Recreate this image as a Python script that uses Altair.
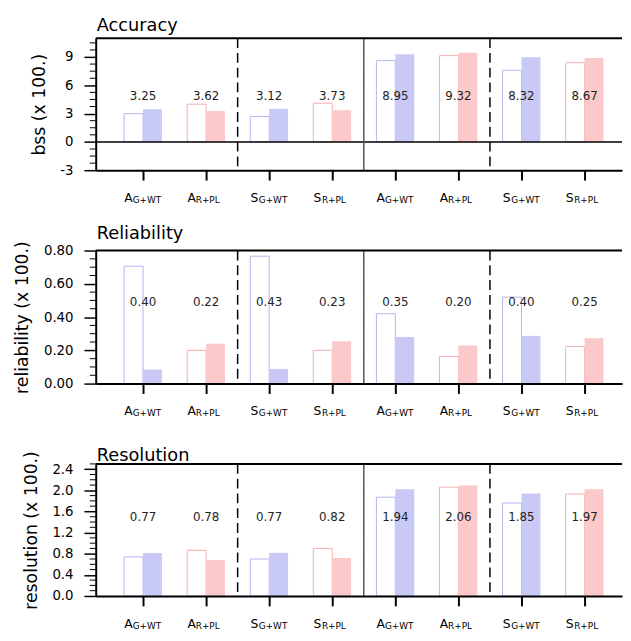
import altair as alt
import pandas as pd
import numpy as np

# ---- data ----
mains = ["A", "A", "S", "S", "A", "A", "S", "S"]
subs = ["G+WT", "R+PL", "G+WT", "R+PL", "G+WT", "R+PL", "G+WT", "R+PL"]

acc_open = [3.0, 4.0, 2.7, 4.1, 8.62, 9.15, 7.6, 8.4]
acc_fill = [3.45, 3.27, 3.5, 3.35, 9.28, 9.45, 8.98, 8.9]
acc_text = ["3.25", "3.62", "3.12", "3.73", "8.95", "9.32", "8.32", "8.67"]

rel_open = [0.706, 0.20, 0.766, 0.20, 0.42, 0.163, 0.52, 0.223]
rel_fill = [0.084, 0.24, 0.088, 0.255, 0.28, 0.229, 0.287, 0.273]
rel_text = ["0.40", "0.22", "0.43", "0.23", "0.35", "0.20", "0.40", "0.25"]

res_open = [0.74, 0.865, 0.70, 0.90, 1.87, 2.06, 1.76, 1.93]
res_fill = [0.815, 0.68, 0.815, 0.72, 2.02, 2.09, 1.94, 2.02]
res_text = ["0.77", "0.78", "0.77", "0.82", "1.94", "2.06", "1.85", "1.97"]

W = 534
STEP = 64.0
FONT = "DejaVu Sans"
group_dom = ["G+WT", "R+PL"]
line_cols = ["#b4b4ee", "#f2b0b0"]
fill_cols = ["#c9c9f7", "#fbc9c9"]


def panel(title, ytitle, opens, fills, texts, dom, majors, minor_step, fmt, h,
          title_offset, text_y):
    df = pd.DataFrame({"idx": list(range(8)), "main": mains, "sub": subs,
                       "open": opens, "fill": fills, "txt": texts})
    xs = alt.Scale(domain=[-0.75, -0.75 + W / STEP], nice=False, zero=False)
    ys = alt.Scale(domain=dom, nice=False, zero=False)
    xax = alt.Axis(values=list(range(8)), labels=False, tickSize=10, tickWidth=2,
                   tickColor="black", domainColor="black", domainWidth=2,
                   grid=False, title=None, zindex=1)
    yax = alt.Axis(values=majors, format=fmt, tickSize=12, tickWidth=1.5,
                   tickColor="black", domainColor="black", domainWidth=2,
                   grid=False, title=ytitle, labelPadding=11, titlePadding=12,
                   labelFontSize=13.5, titleFontSize=17.5, zindex=1,
                   labelOverlap=False,
                   labelExpr="replace(datum.label, '\u2212', '-')")
    X = lambda f: alt.X(f, scale=xs, axis=xax)
    Y = lambda f: alt.Y(f, scale=ys, axis=yax)

    base = alt.Chart(df).transform_calculate(
        xl="datum.idx - 0.3", xr="datum.idx + 0.3")

    open_bar = base.mark_rect(fill="white", strokeWidth=1).encode(
        x=X("xl:Q"), x2="idx:Q", y=Y("open:Q"), y2=alt.datum(0),
        stroke=alt.Stroke("sub:N", scale=alt.Scale(domain=group_dom, range=line_cols),
                          legend=None))
    fill_bar = base.mark_rect(strokeWidth=0).encode(
        x=X("idx:Q"), x2="xr:Q", y=Y("fill:Q"), y2=alt.datum(0),
        fill=alt.Fill("sub:N", scale=alt.Scale(domain=group_dom, range=fill_cols),
                      legend=None))

    one = pd.DataFrame({"k": [0]})
    layers = [open_bar, fill_bar]

    if dom[0] < 0:
        zero = alt.Chart(one).mark_rule(color="black", strokeWidth=1.5).encode(
            y=alt.YDatum(0, scale=ys, axis=yax), x=alt.value(0), x2=alt.value(W))
        layers.append(zero)

    ticks = np.round(np.arange(dom[0], dom[1] + 1e-9, minor_step), 4)
    minors = [t for t in ticks if min(abs(t - m) for m in majors) > 1e-6]
    minor = alt.Chart(pd.DataFrame({"m": minors})).mark_rule(
        color="black", strokeWidth=1).encode(
        y=Y("m:Q"), x=alt.value(-6), x2=alt.value(0))
    layers.append(minor)

    for pos, dash, col in [(1.5, [10, 5], "black"), (3.5, [1, 0], "#555555"),
                           (5.5, [10, 5], "black")]:
        r = alt.Chart(one).mark_rule(color=col, strokeWidth=1.5, strokeDash=dash).encode(
            x=alt.XDatum(pos, scale=xs, axis=xax), y=alt.value(0), y2=alt.value(h))
        layers.append(r)

    top = alt.Chart(one).mark_rule(color="black", strokeWidth=2).encode(
        x=alt.value(0), x2=alt.value(W), y=alt.value(0))
    layers.append(top)

    ttl = alt.Chart(pd.DataFrame({"t": [title]})).mark_text(
        font=FONT, fontSize=18, color="black", align="left", baseline="alphabetic").encode(
        x=alt.value(1), y=alt.value(-title_offset), text="t:N")
    layers.append(ttl)

    vals = base.mark_text(font=FONT, fontSize=12, color="#222222", baseline="middle").encode(
        x=X("idx:Q"), y=alt.value(text_y), text="txt:N")
    layers.append(vals)

    main_lab = base.mark_text(font=FONT, fontSize=12.5, color="black", align="left",
                              baseline="alphabetic", dx=-19).encode(
        x=X("idx:Q"), y=alt.value(h + 32), text="main:N")
    sub_lab = base.mark_text(font=FONT, fontSize=9, color="black", align="left",
                             baseline="alphabetic", dx=-10.5).encode(
        x=X("idx:Q"), y=alt.value(h + 33), text="sub:N")
    layers += [main_lab, sub_lab]

    return alt.layer(*layers).properties(width=W, height=h)


p1 = panel("Accuracy", "bss (x 100.)", acc_open, acc_fill, acc_text, [-3, 11],
           [-3, 0, 3, 6, 9], 0.75, "d", 134, 7, 59)
p2 = panel("Reliability", "reliability (x 100.)", rel_open, rel_fill, rel_text, [0, 0.8],
           [0.0, 0.2, 0.4, 0.6, 0.8], 0.05, ".2f", 135, 12, 52)
p3 = panel("Resolution", "resolution (x 100.)", res_open, res_fill, res_text, [0, 2.5],
           [0.0, 0.4, 0.8, 1.2, 1.6, 2.0, 2.4], 0.1, ".1f", 134, 3, 54)

chart = alt.vconcat(p1, p2, p3, spacing=81.5, bounds="flush").properties(
    padding={"left": 5, "top": 5, "right": 0, "bottom": 0}
).configure_view(stroke=None).configure_axis(
    labelFont=FONT, labelColor="black", titleFont=FONT, titleFontWeight="normal",
    titleColor="black")

chart.save("out.html", embed_options={"renderer": "svg", "actions": False})
